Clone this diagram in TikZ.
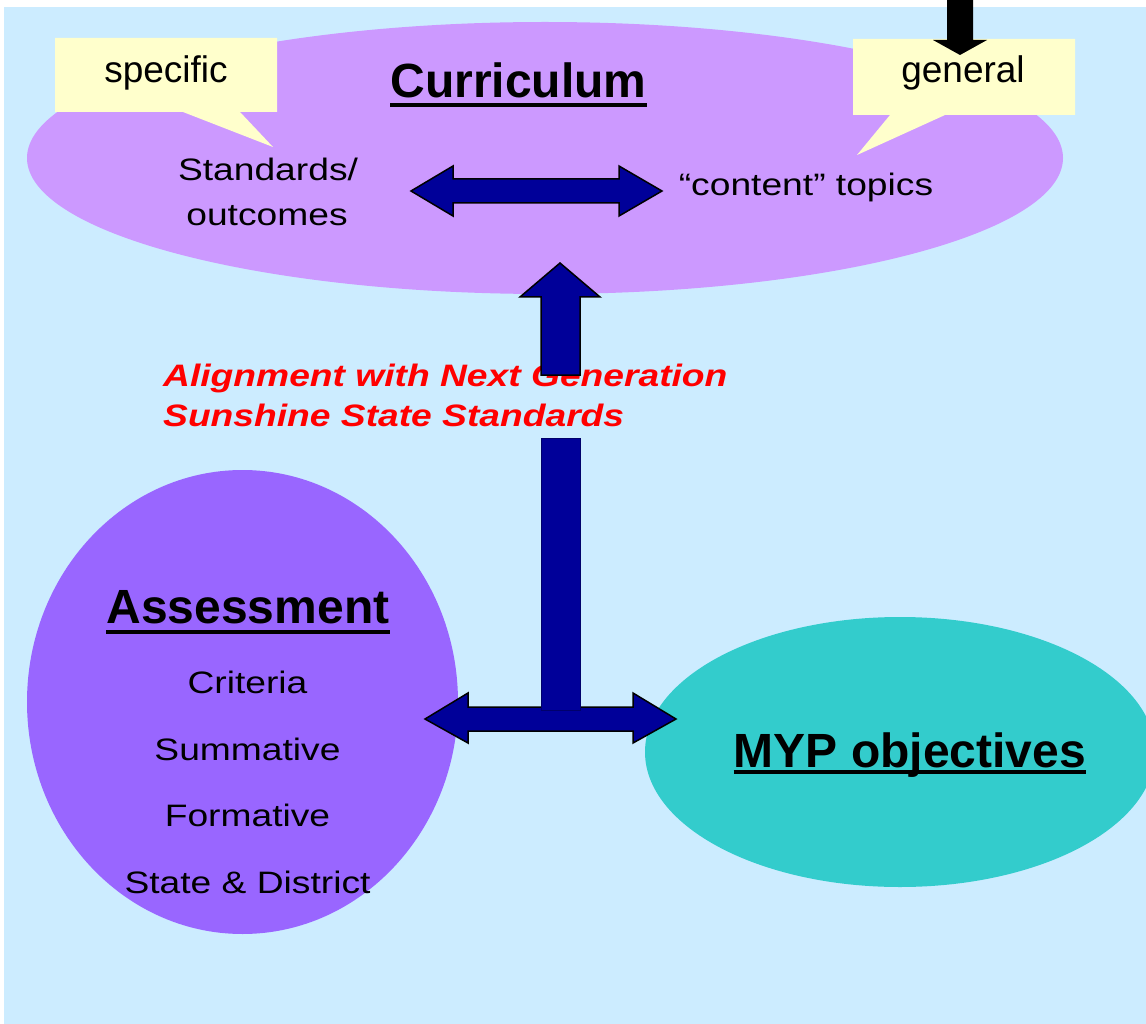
\documentclass[tikz,border=0pt]{standalone}
\usepackage{fontspec}
\setmainfont{Liberation Sans}
\newfontfamily\widefont[FakeStretch=1.2]{Liberation Sans}
\definecolor{bgblue}{HTML}{CCECFF}
\definecolor{curcol}{HTML}{CC99FF}
\definecolor{asscol}{HTML}{9966FF}
\definecolor{mypcol}{HTML}{33CCCC}
\definecolor{notecol}{HTML}{FFFFCC}
\definecolor{navy}{HTML}{000099}
\definecolor{redtxt}{HTML}{FF0000}
\tikzset{
  headtxt/.style={font=\fontsize{48}{48}\selectfont\bfseries, inner sep=0pt, anchor=base},
  bodytxt/.style={font=\widefont\fontsize{31}{31}\selectfont, inner sep=0pt, anchor=base},
  notetxt/.style={font=\fontsize{37}{37}\selectfont, inner sep=0pt, anchor=base},
  redlabel/.style={font=\widefont\fontsize{31}{31}\selectfont\bfseries\itshape, text=redtxt, inner sep=0pt, anchor=base west},
  blockarrow/.style={fill=navy, draw=black, line width=1.5pt, line join=miter},
  callout/.style={fill=notecol, draw=none},
  uline/.style={line width=4pt}
}
\begin{document}
\begin{tikzpicture}[x=1pt,y=-1pt]
\useasboundingbox (0,0) rectangle (1146,1024);
% background
\fill[bgblue] (4,7) rectangle (1146,1024);
% ellipses
\fill[curcol] (545,158) ellipse [x radius=518, y radius=136];
\fill[asscol] (242.5,702) ellipse [x radius=215.5, y radius=232];
\begin{scope}
\clip (4,7) rectangle (1146,1024);
\fill[mypcol] (900,752) ellipse [x radius=255, y radius=135];
\end{scope}
% callouts
\fill[callout] (55,38) -- (277,38) -- (277,112) -- (240,112) -- (273,147) -- (183,112) -- (55,112) -- cycle;
\fill[callout] (853,39) -- (1075,39) -- (1075,115) -- (945,115) -- (857,155) -- (890,115) -- (853,115) -- cycle;
% black arrow into "general"
\fill[black] (947,0) -- (973,0) -- (973,40) -- (987,40) -- (960,55) -- (933,40) -- (947,40) -- cycle;
% texts
\node[notetxt] (spec) at (166,83) {specific};
\node[notetxt] (gen) at (963,83) {general};
\node[headtxt] (cur) at (518.5,98) {Curriculum};
\draw[uline] ([yshift=-7pt]cur.base west) -- ([yshift=-7pt]cur.base east);
\node[bodytxt] (std1) at (268,181) {Standards/};
\node[bodytxt] (std2) at (267,226) {outcomes};
\node[bodytxt] (cont) at (806,196) {“content” topics};
\node[redlabel] (red1) at (163,386) {Alignment with Next Generation};
\node[redlabel] (red2) at (163,426) {Sunshine State Standards};
\node[headtxt] (ass) at (248,623) {Assessment};
\draw[uline] ([yshift=-9pt]ass.base west) -- ([yshift=-9pt]ass.base east);
\node[bodytxt] (a1) at (247.5,693) {Criteria};
\node[bodytxt] (a2) at (247.5,760) {Summative};
\node[bodytxt] (a3) at (247.5,826) {Formative};
\node[bodytxt] (a4) at (247.5,893) {State \& District};
\node[headtxt] (myp) at (910,767) {MYP objectives};
\draw[uline] ([yshift=-5pt]myp.base west) -- ([yshift=-5pt]myp.base east);
% block arrows
\draw[blockarrow] (411,191) -- (453,166) -- (453,179) -- (619,179) -- (619,166) -- (662,191) -- (619,216) -- (619,203) -- (453,203) -- (453,216) -- cycle;
\draw[blockarrow] (560,263) -- (600,297) -- (580,297) -- (580,375) -- (541,375) -- (541,297) -- (520,297) -- cycle;
\draw[blockarrow] (425,719) -- (468,693) -- (468,707) -- (633,707) -- (633,693) -- (676,719) -- (633,743) -- (633,731) -- (468,731) -- (468,743) -- cycle;
\draw[fill=navy, draw=navy!70!black, line width=0.6pt] (541,438) rectangle (580,710);
\end{tikzpicture}
\end{document}
